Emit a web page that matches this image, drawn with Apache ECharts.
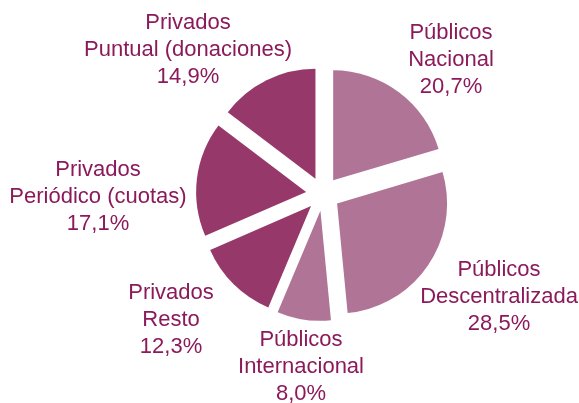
<!DOCTYPE html>
<html>
<head>
<meta charset="utf-8">
<script src="https://cdn.jsdelivr.net/npm/echarts@6/dist/echarts.min.js"></script>
<style>
  html, body { margin: 0; padding: 0; background: #fff; }
  #chart { width: 579px; height: 403px; }
</style>
</head>
<body>
<div id="chart"></div>
<script>
// datos
var groups = ["Públicos", "Públicos", "Públicos", "Privados", "Privados", "Privados"];
var categories = ["Nacional", "Descentralizada", "Internacional", "Resto", "Periódico (cuotas)", "Puntual (donaciones)"];
var values = [20.7, 28.5, 8.0, 12.3, 17.1, 14.9];

// colores y posicion de etiquetas (centro del bloque de texto)
var colors = { "Públicos": "#b07496", "Privados": "#96386a" };
var labelPos = [[451, 60], [499, 297], [301, 367], [171, 320], [98, 197], [188, 50]];

function buildData(sel) {
  return values.map(function (v, i) {
    return {
      name: groups[i] + "\n" + categories[i],
      value: v,
      selected: sel,
      itemStyle: { color: sel ? colors[groups[i]] : "transparent" }
    };
  });
}

var myChart = echarts.init(document.getElementById("chart"));
myChart.setOption({
  animation: false,
  series: [
    {
      // sectores separados
      type: "pie",
      center: [323, 194],
      radius: 110,
      startAngle: 90,
      clockwise: true,
      selectedMode: "multiple",
      selectedOffset: 17,
      emphasis: { disabled: true },
      label: { show: false },
      labelLine: { show: false },
      data: buildData(true)
    },
    {
      // solo etiquetas
      type: "pie",
      silent: true,
      center: [323, 194],
      radius: 110,
      startAngle: 90,
      clockwise: true,
      selectedMode: false,
      emphasis: { disabled: true },
      label: {
        show: true,
        position: "outside",
        alignTo: "none",
        overflow: "none",
        color: "#8b1a5b",
        fontFamily: "Liberation Sans, Arial, sans-serif",
        fontSize: 22,
        lineHeight: 27,
        align: "center",
        formatter: function (p) {
          return p.name + "\n" + p.value.toFixed(1).replace(".", ",") + "%";
        }
      },
      labelLine: { show: false },
      labelLayout: function (p) {
        var pos = labelPos[p.dataIndex];
        return { x: pos[0], y: pos[1], align: "center", verticalAlign: "middle" };
      },
      data: buildData(false)
    }
  ]
});
</script>
</body>
</html>
